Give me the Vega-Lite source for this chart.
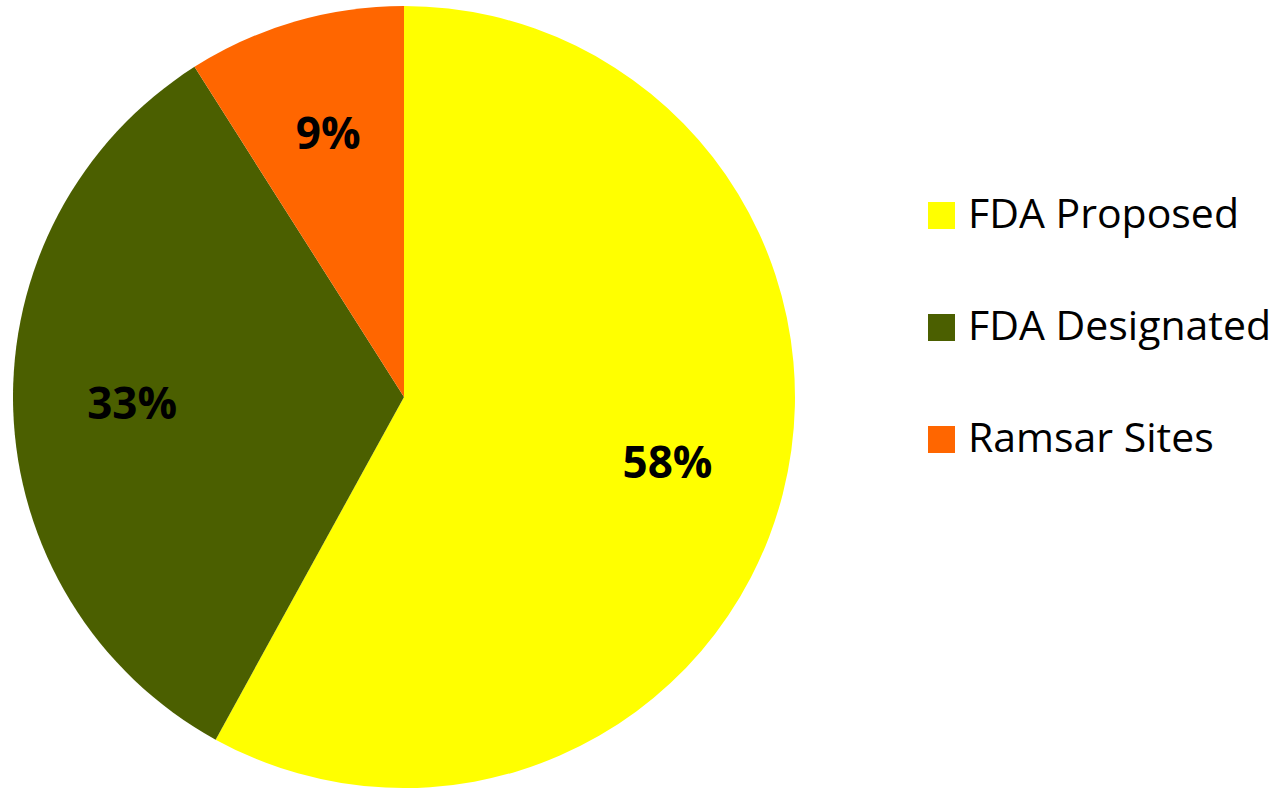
{
  "$schema": "https://vega.github.io/schema/vega-lite/v6.json",
  "width": 782,
  "height": 782,
  "autosize": "none",
  "padding": {"left": 13, "top": 6, "right": 487, "bottom": 0},
  "background": "white",
  "data": {
    "values": [
      {"category": "FDA Proposed", "share": 0.58},
      {"category": "FDA Designated", "share": 0.33},
      {"category": "Ramsar Sites", "share": 0.09}
    ]
  },
  "encoding": {
    "theta": {"field": "share", "type": "quantitative", "stack": true},
    "order": {"field": "share", "type": "quantitative", "sort": "descending"},
    "color": {
      "field": "category",
      "type": "nominal",
      "sort": null,
      "scale": {
        "domain": ["FDA Proposed", "FDA Designated", "Ramsar Sites"],
        "range": ["#FFFF00", "#4B5F00", "#FF6600"]
      },
      "legend": {
        "title": null,
        "orient": "none",
        "legendX": 908,
        "legendY": 189,
        "padding": 0,
        "symbolType": "square",
        "symbolSize": 729,
        "symbolStrokeWidth": 0,
        "symbolOpacity": 1,
        "labelFont": "Open Sans",
        "labelFontSize": 41,
        "labelColor": "#000000",
        "labelOffset": 6,
        "rowPadding": 70,
        "labelLimit": 500
      }
    }
  },
  "layer": [
    {
      "mark": {"type": "arc", "radius": 391, "stroke": null}
    },
    {
      "mark": {
        "type": "text",
        "radius": 272,
        "font": "Open Sans",
        "fontSize": 44,
        "fontWeight": "bold",
        "fill": "#000000",
        "baseline": "middle",
        "align": "center"
      },
      "encoding": {
        "text": {"field": "share", "type": "quantitative", "format": ".0%"},
        "color": {"value": "#000000"}
      }
    }
  ],
  "config": {"view": {"stroke": null}}
}
